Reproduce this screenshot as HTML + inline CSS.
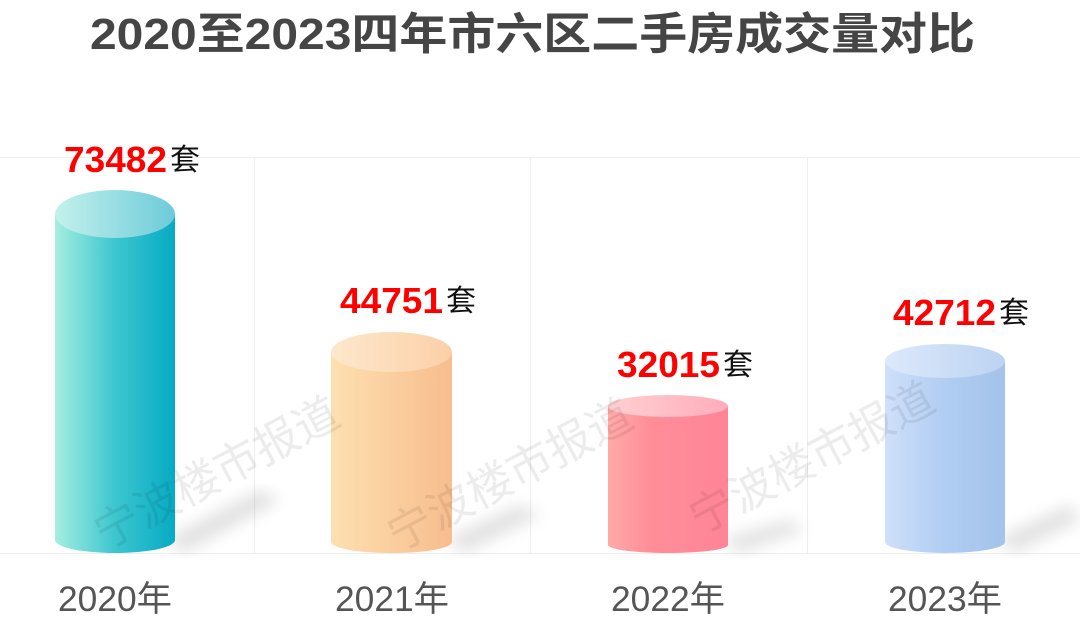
<!DOCTYPE html>
<html><head><meta charset="utf-8"><style>
body{margin:0;background:#fff;width:1080px;height:621px;overflow:hidden;font-family:"Liberation Sans","Noto Sans CJK SC",sans-serif}
</style></head><body>
<svg width="1080" height="621" xmlns="http://www.w3.org/2000/svg">
<defs>
<linearGradient id="b1" x1="0" x2="1"><stop offset="0" stop-color="#a6eee0"/><stop offset="0.5" stop-color="#3cc6cf"/><stop offset="1" stop-color="#07aac4"/></linearGradient>
<linearGradient id="t1" x1="0" x2="1"><stop offset="0" stop-color="#c4f1ec"/><stop offset="1" stop-color="#6ccbd9"/></linearGradient>
<linearGradient id="b2" x1="0" x2="1"><stop offset="0" stop-color="#fde0b0"/><stop offset="1" stop-color="#f8bd8e"/></linearGradient>
<linearGradient id="t2" x1="0" x2="1"><stop offset="0" stop-color="#fde8cc"/><stop offset="1" stop-color="#fbd0a8"/></linearGradient>
<linearGradient id="b3" x1="0" x2="1"><stop offset="0" stop-color="#ffaaa8"/><stop offset="0.35" stop-color="#ff8e98"/><stop offset="1" stop-color="#ff8497"/></linearGradient>
<linearGradient id="t3" x1="0" x2="1"><stop offset="0" stop-color="#ffcfd2"/><stop offset="1" stop-color="#ffadbb"/></linearGradient>
<linearGradient id="b4" x1="0" x2="1"><stop offset="0" stop-color="#cfe0fa"/><stop offset="0.5" stop-color="#b0cdf2"/><stop offset="1" stop-color="#a4c3ea"/></linearGradient>
<linearGradient id="t4" x1="0" x2="1"><stop offset="0" stop-color="#dde9fb"/><stop offset="1" stop-color="#bcd3f2"/></linearGradient>
<filter id="sh"><feGaussianBlur stdDeviation="8"/></filter>
</defs>
<text x="90" y="49" textLength="885" lengthAdjust="spacingAndGlyphs" font-size="44" font-weight="bold" fill="#454545">2020至2023四年市六区二手房成交量对比</text>
<g stroke="#eeeeee" stroke-width="1">
<line x1="0" y1="157.5" x2="1080" y2="157.5"/><line x1="0" y1="553.5" x2="1080" y2="553.5"/>
<line x1="254.5" y1="157" x2="254.5" y2="553"/><line x1="530.5" y1="157" x2="530.5" y2="553"/><line x1="807.5" y1="157" x2="807.5" y2="553"/>
</g>
<g fill="#000" opacity="0.12" filter="url(#sh)">
<polygon points="165,540 260,490 280,500 185,552"/>
<polygon points="445,540 520,505 540,515 465,552"/>
<polygon points="720,540 790,520 805,530 740,552"/>
<polygon points="995,540 1070,505 1080,520 1015,552"/>
</g>
<path d="M55,214 V540 A60,13 0 0 0 175,540 V214 Z" fill="url(#b1)"/>
<ellipse cx="115" cy="214" rx="60" ry="24" fill="url(#t1)"/>
<path d="M331,352 V542 A60,11 0 0 0 452,542 V352 Z" fill="url(#b2)"/>
<ellipse cx="391.5" cy="352" rx="60.5" ry="20" fill="url(#t2)"/>
<path d="M608,406 V545 A60,8 0 0 0 728,545 V406 Z" fill="url(#b3)"/>
<ellipse cx="668" cy="406" rx="60" ry="11" fill="url(#t3)"/>
<path d="M885,361 V542 A60,11 0 0 0 1005,542 V361 Z" fill="url(#b4)"/>
<ellipse cx="945" cy="361" rx="60" ry="17" fill="url(#t4)"/>
<g fill="#000" opacity="0.07" font-size="45">
<text transform="translate(105,550) rotate(-28)">宁波楼市报道</text>
<text transform="translate(398,552) rotate(-28)">宁波楼市报道</text>
<text transform="translate(700,535) rotate(-28)">宁波楼市报道</text>
</g>
<g font-size="36" font-weight="bold" fill="#ff0000">
<text x="64" y="172" textLength="103" lengthAdjust="spacingAndGlyphs">73482</text>
<text x="340" y="313" textLength="103" lengthAdjust="spacingAndGlyphs">44751</text>
<text x="617" y="377" textLength="103" lengthAdjust="spacingAndGlyphs">32015</text>
<text x="893" y="325" textLength="103" lengthAdjust="spacingAndGlyphs">42712</text>
</g>
<g font-size="30" fill="#111">
<text x="170" y="170">套</text>
<text x="446" y="311">套</text>
<text x="723" y="375">套</text>
<text x="999" y="323">套</text>
</g>
<g font-size="35" fill="#555">
<text x="58" y="611" textLength="114" lengthAdjust="spacingAndGlyphs">2020年</text>
<text x="335" y="611" textLength="114" lengthAdjust="spacingAndGlyphs">2021年</text>
<text x="611" y="611" textLength="114" lengthAdjust="spacingAndGlyphs">2022年</text>
<text x="888" y="611" textLength="114" lengthAdjust="spacingAndGlyphs">2023年</text>
</g>
</svg>
</body></html>
